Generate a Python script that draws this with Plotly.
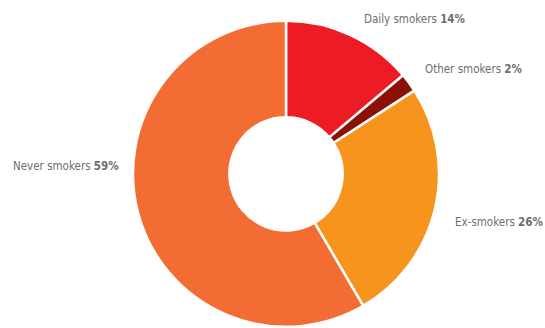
import plotly.graph_objects as go

categories = ["Daily smokers", "Other smokers", "Ex-smokers", "Never smokers"]
shares = [14, 2, 26, 59]
colors = ["#ED1C24", "#8B1106", "#F7941D", "#F26C33"]

fig = go.Figure(
    go.Pie(
        labels=categories,
        values=shares,
        hole=0.37,
        sort=False,
        direction="clockwise",
        rotation=0,
        marker=dict(colors=colors, line=dict(color="white", width=2.5)),
        textinfo="none",
        hoverinfo="label+percent",
        domain=dict(x=[133 / 545, 439 / 545], y=[0, 0.94]),
        showlegend=False,
    )
)

font = dict(family="DejaVu Sans Condensed, Liberation Sans Narrow, sans-serif", size=11.5, color="#6E6E6E")
# label anchors in pixels from the top-left, one per category
label_pos = {
    "Daily smokers": (362, 19),
    "Other smokers": (423, 69),
    "Ex-smokers": (453, 222),
    "Never smokers": (11, 166),
}
for name, val in zip(categories, shares):
    px, py = label_pos[name]
    fig.add_annotation(
        x=px / 545, y=1 - py / 328, xref="paper", yref="paper",
        xanchor="left", yanchor="middle", showarrow=False,
        text=f"{name} <b>{val}%</b>", font=font,
    )

fig.update_layout(
    width=545, height=328,
    margin=dict(l=0, r=0, t=0, b=0),
    paper_bgcolor="white", plot_bgcolor="white",
)
fig.write_html("out.html")
